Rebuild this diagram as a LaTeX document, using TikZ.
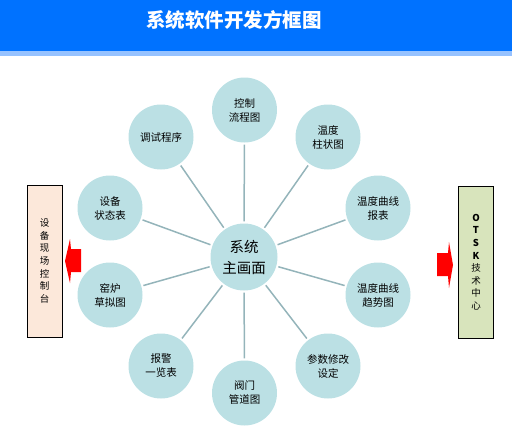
\documentclass[tikz,border=0pt]{standalone}
\usepackage{fontspec}
\newfontfamily\cjk{Noto Sans CJK SC}
\definecolor{headblue}{RGB}{0,114,255}
\definecolor{stripblue}{RGB}{150,194,255}
\definecolor{bubble}{RGB}{187,224,228}
\definecolor{spokegray}{RGB}{148,180,186}
\definecolor{peach}{RGB}{252,232,218}
\definecolor{sage}{RGB}{216,228,188}
\begin{document}
\begin{tikzpicture}[x=1pt,y=-1pt,
  sub/.style={circle, fill=bubble, minimum size=65pt, inner sep=0pt, align=center, font=\cjk\fontsize{10.5}{14}\selectfont},
  spoke/.style={draw=spokegray, line width=1.5pt},
  sidebox/.style={draw, line width=0.8pt, minimum width=35pt, minimum height=152pt, inner sep=0pt, align=center, font=\cjk\fontsize{9.5}{12.6}\selectfont}]
\useasboundingbox (0,0) rectangle (512,432);
% header
\fill[headblue] (0,0) rectangle (512,51);
\fill[stripblue] (0,51) rectangle (512,56);
\node (title) [text=white, font=\cjk\bfseries\fontsize{19.5}{22}\selectfont] at (234,20) {系统软件开发方框图};
% hub and ring
\node (main) [circle, fill=bubble, minimum size=67pt, inner sep=0pt, align=center, font=\cjk\fontsize{14.5}{21}\selectfont] at (244,257) {系统\\主画面};
\node (ctrl) [sub] at (244.5,110) {控制\\流程图};
\node (debug) [sub] at (161,137) {调试程序};
\node (bar) [sub] at (328,137) {温度\\柱状图};
\node (status) [sub] at (110,208) {设备\\状态表};
\node (report) [sub] at (378,208) {温度曲线\\报表};
\node (kiln) [sub] at (110,295) {窑炉\\草拟图};
\node (trend) [sub] at (378,295) {温度曲线\\趋势图};
\node (alarm) [sub] at (161,366) {报警\\一览表};
\node (param) [sub] at (328,366) {参数修改\\设定};
\node (valve) [sub] at (244.5,393) {阀门\\管道图};
\foreach \n in {ctrl,debug,bar,status,report,kiln,trend,alarm,param,valve}
  \draw[spoke, shorten >=2pt, shorten <=2pt] (main) -- (\n);
% side panels
\node (field) [sidebox, fill=peach] at (44.5,261) {设\\备\\现\\场\\控\\制\\台};
\node (otsk) [sidebox, fill=sage] at (476,262) {\textbf{O}\\\textbf{T}\\\textbf{S}\\\textbf{K}\\技\\术\\中\\心};
% arrows
\fill[red] (81,249) -- (71,249) -- (70,239) -- (65,261) -- (70,283) -- (71,272) -- (81,272) -- cycle;
\fill[red] (437,253) -- (448,253) -- (449,242) -- (453,265) -- (449,288) -- (448,276) -- (437,276) -- cycle;
\end{tikzpicture}
\end{document}
